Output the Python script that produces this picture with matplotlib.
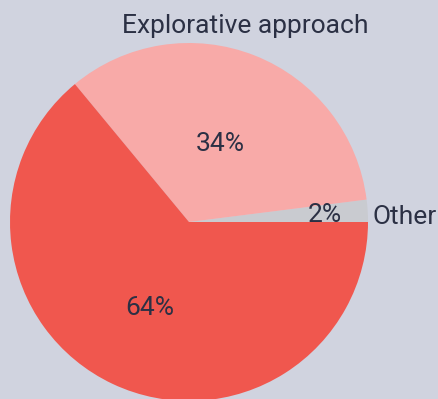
import numpy as np
import matplotlib
matplotlib.use("Agg")
import matplotlib.pyplot as plt

# Slice data (counter-clockwise from 3 o'clock)
labels = ["Other", "Explorative approach", ""]
values = [2, 34, 64]
pct_labels = ["2%", "34%", "64%"]
colors = ["#c9cbd0", "#f8aaa8", "#f0574e"]

bg = "#d0d3df"
text_color = "#2b3044"
font = "Roboto"

fig = plt.figure(figsize=(4.38, 3.99), dpi=100, facecolor=bg)
ax = fig.add_axes([0, 0, 1, 1])
ax.set_facecolor(bg)

wedges, _ = ax.pie(values, colors=colors, startangle=0, counterclock=True,
                   radius=1.0, center=(0, 0),
                   wedgeprops=dict(linewidth=0, antialiased=True))

# Pixel-exact framing: centre at (189, 222) px, radius 179 px
W, H, cx, cy, r = 438, 399, 189, 222, 179
ax.set_xlim(-cx / r, (W - cx) / r)
ax.set_ylim(-(H - cy) / r, cy / r)
ax.set_aspect("equal")
ax.axis("off")

# Percentage labels at the middle angle of each slice
frac = np.array(values) / np.sum(values)
bounds = np.concatenate([[0], np.cumsum(frac)]) * 360
mids = np.deg2rad((bounds[:-1] + bounds[1:]) / 2)
pct_dist = [0.76, 0.48, 0.52]
for m, d, t in zip(mids, pct_dist, pct_labels):
    ax.text(d * np.cos(m), d * np.sin(m) - 1.5 / r, t, ha="center", va="center",
            fontsize=19, color=text_color, family=font)

# Category labels outside the pie
ax.text((245 - cx) / r, (cy - 26) / r, labels[1], ha="center", va="center",
        fontsize=19, color=text_color, family=font)
ax.text((372 - cx) / r, (cy - 217) / r, labels[0], ha="left", va="center",
        fontsize=19, color=text_color, family=font)

fig.savefig("out.png", dpi=100, facecolor=bg)
